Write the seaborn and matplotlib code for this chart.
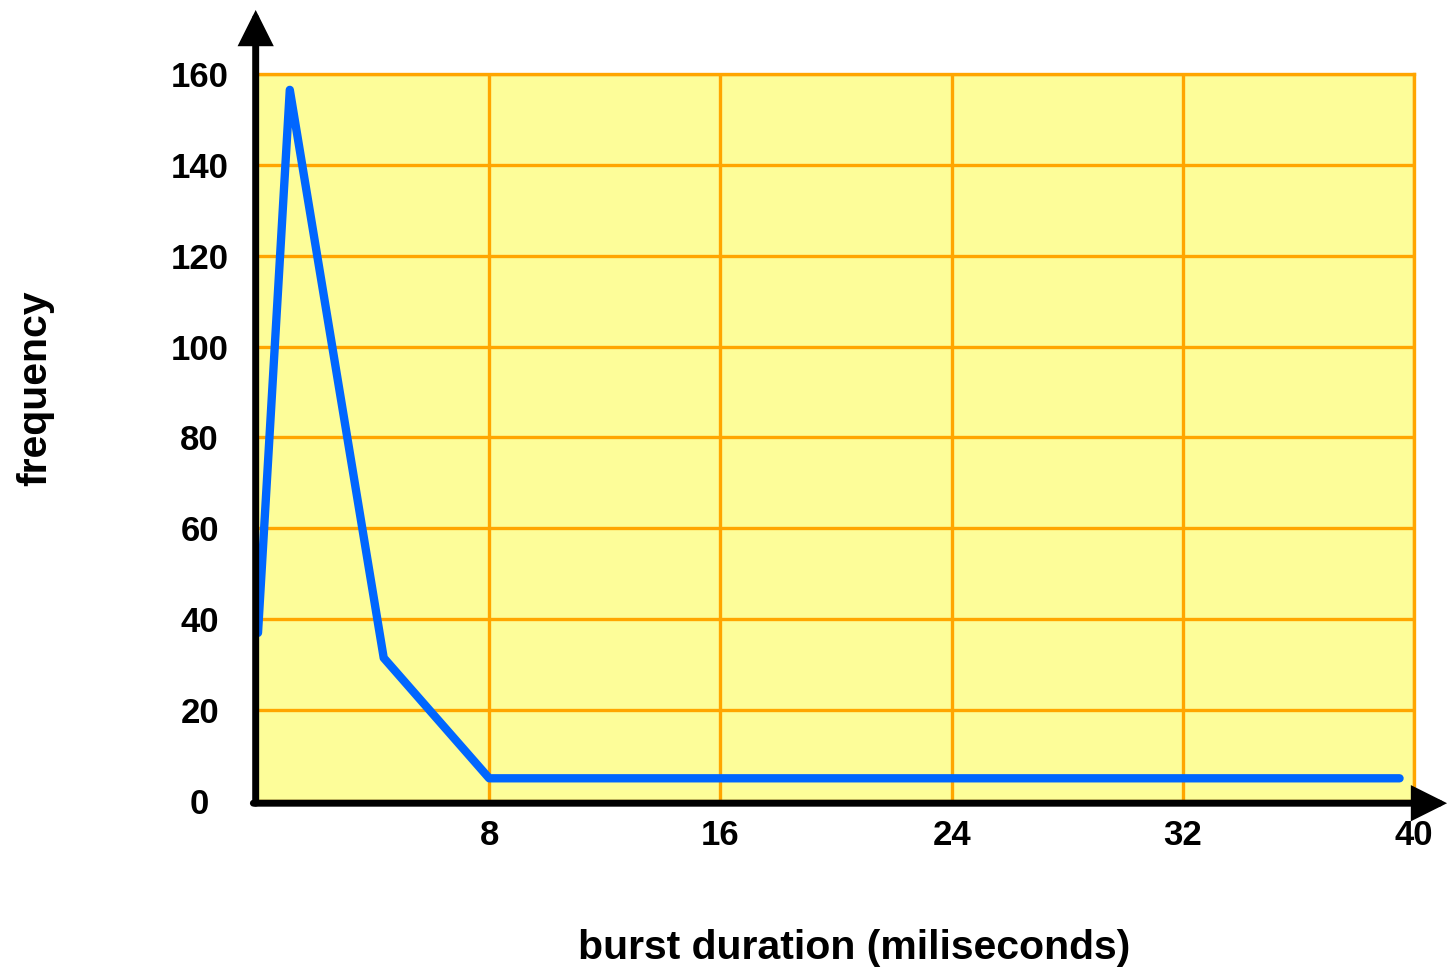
import seaborn as sns
import matplotlib.pyplot as plt
import pandas as pd

# values
duration = [0, 1.1, 4.35, 8, 39.5]
frequency = [37, 156.5, 31.5, 5, 5]
x_ticks = [8, 16, 24, 32, 40]
y_ticks = [0, 20, 40, 60, 80, 100, 120, 140, 160]

df = pd.DataFrame({'duration': duration, 'frequency': frequency})

sns.set_style("white")
plt.rcParams['font.family'] = ['Liberation Sans', 'DejaVu Sans']
plt.rcParams['font.weight'] = 'bold'
plt.rcParams['text.color'] = 'black'
plt.rcParams['axes.labelcolor'] = 'black'
plt.rcParams['xtick.color'] = 'black'
plt.rcParams['ytick.color'] = 'black'

fig = plt.figure(figsize=(14.47, 9.68), dpi=100)
ax = fig.add_axes([0.1783, 0.1725, 0.7989, 0.7511])
ax.set_facecolor('#FDFD99')

sns.lineplot(data=df, x='duration', y='frequency', ax=ax, sort=False,
             estimator=None, color='#0066FF', linewidth=6,
             solid_capstyle='round', solid_joinstyle='round', zorder=3)

ax.set_xlim(0, 40)
ax.set_ylim(0, 160)
ax.set_xticks(x_ticks)
ax.set_yticks(y_ticks)
ax.grid(True, color='#FFA500', linewidth=2.4, zorder=1)
ax.set_axisbelow(True)
ax.tick_params(axis='both', length=0, labelsize=25, labelcolor='black')
ax.tick_params(axis='y', pad=42)
ax.tick_params(axis='x', pad=13)
for lab in ax.get_yticklabels():
    lab.set_horizontalalignment('center')
    lab.set_fontweight('bold')
for lab in ax.get_xticklabels():
    lab.set_fontweight('bold')

for side in ['left', 'bottom']:
    ax.spines[side].set_visible(False)
for side in ['top', 'right']:
    ax.spines[side].set_color('#FFA500')
    ax.spines[side].set_linewidth(2.4)

# black axes with arrow heads
arrow = dict(arrowstyle='-|>,head_length=0.6,head_width=0.3', mutation_scale=30,
             color='black', linewidth=5, shrinkA=0, shrinkB=0, joinstyle='miter')
ax.annotate('', xy=(-0.002, 1.088), xytext=(-0.002, -0.003), xycoords='axes fraction',
            arrowprops=arrow, annotation_clip=False, zorder=5)
ax.annotate('', xy=(1.0286, -0.003), xytext=(-0.004, -0.003), xycoords='axes fraction',
            arrowprops=arrow, annotation_clip=False, zorder=5)

ax.set_xlabel('burst duration (miliseconds)', fontsize=29.5, fontweight='bold', color='black')
ax.set_ylabel('frequency', fontsize=29.5, fontweight='bold', color='black')
ax.xaxis.set_label_coords(0.5156, -0.176)
ax.yaxis.set_label_coords(-0.176, 0.568)

fig.savefig('out.png', dpi=100)
